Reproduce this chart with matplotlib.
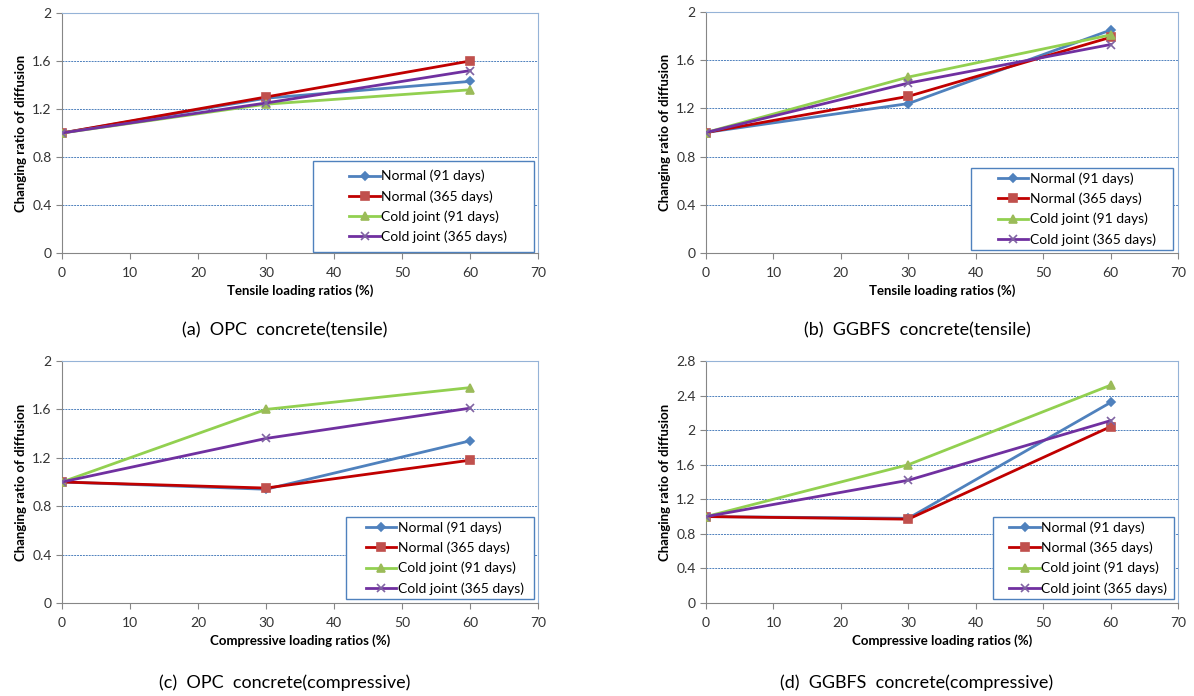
import matplotlib
matplotlib.use('Agg')
import matplotlib.pyplot as plt
from matplotlib.ticker import FuncFormatter
from matplotlib.patches import Rectangle

plt.rcParams['font.family'] = ['Lato', 'DejaVu Sans']

# datos
x_load = [0, 30, 60]
series_names = ["Normal (91 days)", "Normal (365 days)",
                "Cold joint (91 days)", "Cold joint (365 days)"]

opc_tensile = [[1.0, 1.29, 1.43], [1.0, 1.30, 1.60], [1.0, 1.24, 1.36], [1.0, 1.25, 1.52]]
ggbfs_tensile = [[1.0, 1.24, 1.85], [1.0, 1.30, 1.79], [1.0, 1.46, 1.81], [1.0, 1.41, 1.73]]
opc_comp = [[1.0, 0.94, 1.34], [1.0, 0.95, 1.18], [1.0, 1.60, 1.78], [1.0, 1.36, 1.61]]
ggbfs_comp = [[1.0, 0.98, 2.32], [1.0, 0.97, 2.04], [1.0, 1.60, 2.52], [1.0, 1.42, 2.11]]

captions = ["(a)  OPC  concrete(tensile)", "(b)  GGBFS  concrete(tensile)",
            "(c)  OPC  concrete(compressive)", "(d)  GGBFS  concrete(compressive)"]
xlabels = ["Tensile loading ratios (%)", "Tensile loading ratios (%)",
           "Compressive loading ratios (%)", "Compressive loading ratios (%)"]
ymax = [2.0, 2.0, 2.0, 2.8]

line_colors = ["#4F81BD", "#C00000", "#92D050", "#7030A0"]
marker_colors = ["#4F81BD", "#C0504D", "#9BBB59", "#8064A2"]
markers = ["D", "s", "^", "x"]
msizes = [4, 6, 6, 6]

W, H = 1194, 696
# rectangulos en pixeles: izquierda, arriba, ancho, alto
boxes = [(62, 13, 476, 240), (706, 12, 472, 241), (62, 361, 476, 242), (706, 361, 472, 242)]
legend_boxes = [(313, 161, 221, 91), (971, 168, 202, 82), (346, 517, 188, 82), (993, 517, 181, 82)]
caption_pos = [(285, 330), (917, 330), (285, 683), (917, 683)]

data = [opc_tensile, ggbfs_tensile, opc_comp, ggbfs_comp]

fig = plt.figure(figsize=(W / 100, H / 100), dpi=100)

for k in range(4):
    l, t, w, h = boxes[k]
    ax = fig.add_axes([l / W, (H - t - h) / H, w / W, h / H])
    for i in range(4):
        ax.plot(x_load, data[k][i], color=line_colors[i], lw=2,
                marker=markers[i], ms=msizes[i], mfc=marker_colors[i],
                mec=marker_colors[i], mew=1.2, label=series_names[i], zorder=3)
    ax.set_xlim(0, 70)
    ax.set_ylim(0, ymax[k])
    ax.set_xticks(range(0, 71, 10))
    ax.set_yticks([v * 0.4 for v in range(int(round(ymax[k] / 0.4)) + 1)])
    ax.yaxis.set_major_formatter(FuncFormatter(lambda v, p: f"{round(v, 1):g}"))
    ax.yaxis.grid(True, color="#4F81BD", ls=(0, (2, 1)), lw=0.7)
    ax.tick_params(direction="out", length=4, labelsize=10, color="#868686",
                   labelcolor="#333333")
    ax.tick_params(axis='x', pad=6)
    for s in ["left", "bottom"]:
        ax.spines[s].set_color("#868686")
    for s in ["top", "right"]:
        ax.spines[s].set_color("#95B3D7")
    ax.set_xlabel(xlabels[k], fontsize=9.5, fontweight="bold", labelpad=4)
    ax.set_ylabel("Changing ratio of diffusion", fontsize=9.5, fontweight="bold", labelpad=4)

    # marco de la leyenda como en Excel
    lx, ly, lw_, lh = legend_boxes[k]
    fx, fy = (lx - l) / w, 1 - (ly - t + lh) / h
    ax.add_patch(Rectangle((fx, fy), lw_ / w, lh / h, transform=ax.transAxes,
                           facecolor="white", edgecolor="#4F81BD", lw=1.0,
                           clip_on=False, zorder=4))
    ax.legend(loc="center", fontsize=10, frameon=False,
              handlelength=2.2, handletextpad=0.1, borderpad=0.2, labelspacing=0.55,
              bbox_to_anchor=(fx + lw_ / w / 2 + 0.01, fy + lh / h / 2)).set_zorder(5)

    cx, cy = caption_pos[k]
    fig.text(cx / W, 1 - cy / H, captions[k], ha="center", va="center", fontsize=13)

fig.savefig("out.png", dpi=100)
